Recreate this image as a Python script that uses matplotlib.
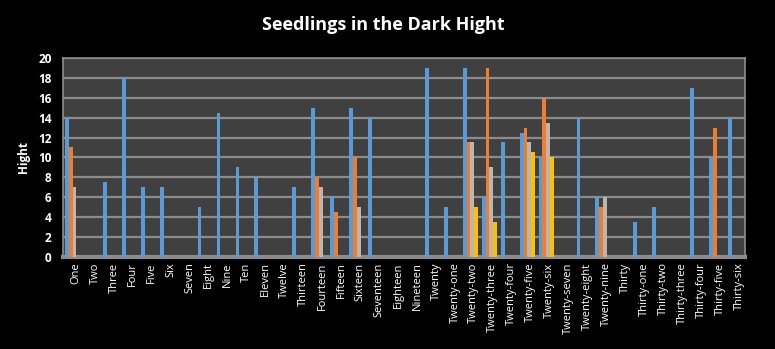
import numpy as np
import matplotlib.pyplot as plt

plt.rcParams['font.family'] = ['Open Sans', 'DejaVu Sans']

categories = ["One", "Two", "Three", "Four", "Five", "Six", "Seven", "Eight",
              "Nine", "Ten", "Eleven", "Twelve", "Thirteen", "Fourteen",
              "Fifteen", "Sixteen", "Seventeen", "Eighteen", "Nineteen",
              "Twenty", "Twenty-one", "Twenty-two", "Twenty-three",
              "Twenty-four", "Twenty-five", "Twenty-six", "Twenty-seven",
              "Twenty-eight", "Twenty-nine", "Thirty", "Thirty-one",
              "Thirty-two", "Thirty-three", "Thirty-four", "Thirty-five",
              "Thirty-six"]

n = np.nan
blue = [14, n, 7.5, 18, 7, 7, n, 5, 14.5, 9, 8, n, 7, 15, 6, 15, 14, n, n,
        19, 5, 19, 6, 11.5, 12.5, 10, n, 14, 6, n, 3.5, 5, n, 17, 10, 14]
orange = [11, n, n, n, n, n, n, n, n, n, n, n, n, 8, 4.5, 10, n, n, n,
          n, n, 11.5, 19, n, 13, 16, n, n, 5, n, n, n, n, n, 13, n]
gray = [7, n, n, n, n, n, n, n, n, n, n, n, n, 7, n, 5, n, n, n,
        n, n, 11.5, 9, n, 11.5, 13.5, n, n, 6, n, n, n, n, n, n, n]
yellow = [n, n, n, n, n, n, n, n, n, n, n, n, n, n, n, n, n, n, n,
          n, n, 5, 3.5, n, 10.5, 10, n, n, n, n, n, n, n, n, n, n]

series = [blue, orange, gray, yellow]
colors = ["#5b9bd5", "#ed7d31", "#bdb5ae", "#ffc000"]

fig = plt.figure(figsize=(7.75, 3.49), dpi=100, facecolor="black")
ax = fig.add_axes([0.081, 0.264, 0.880, 0.570])
ax.set_facecolor("#404040")

x = np.arange(len(categories))
w = 0.2
offsets = [-0.28, -0.08, 0.12, 0.32]
for vals, c, off in zip(series, colors, offsets):
    ax.bar(x + off, vals, width=w, color=c, zorder=3)

ax.set_xlim(-0.5, len(categories) - 0.5)
ax.set_ylim(0, 20)
ax.set_yticks(range(0, 21, 2))
ax.grid(axis="y", color="#8c8c8c", linewidth=1.6, zorder=0)
ax.set_xticks(x + 0.2)
ax.set_xticklabels(categories, rotation=90, color="white", fontsize=8)
ax.tick_params(axis="y", colors="white", labelsize=8.5, length=0, pad=8)
ax.tick_params(axis="x", length=0, pad=4)
for lab in ax.get_yticklabels():
    lab.set_fontweight("bold")
for s in ax.spines.values():
    s.set_color("#8c8c8c")
    s.set_linewidth(1.2)
ax.spines["bottom"].set_linewidth(3)

ax.set_ylabel("Hight", color="white", fontsize=8.5, fontweight="bold", labelpad=6)
fig.text(0.494, 0.928, "Seedlings in the Dark Hight", color="white",
         fontsize=13, fontweight="bold", ha="center", va="center")

fig.savefig("out.png", dpi=100, facecolor="black")
